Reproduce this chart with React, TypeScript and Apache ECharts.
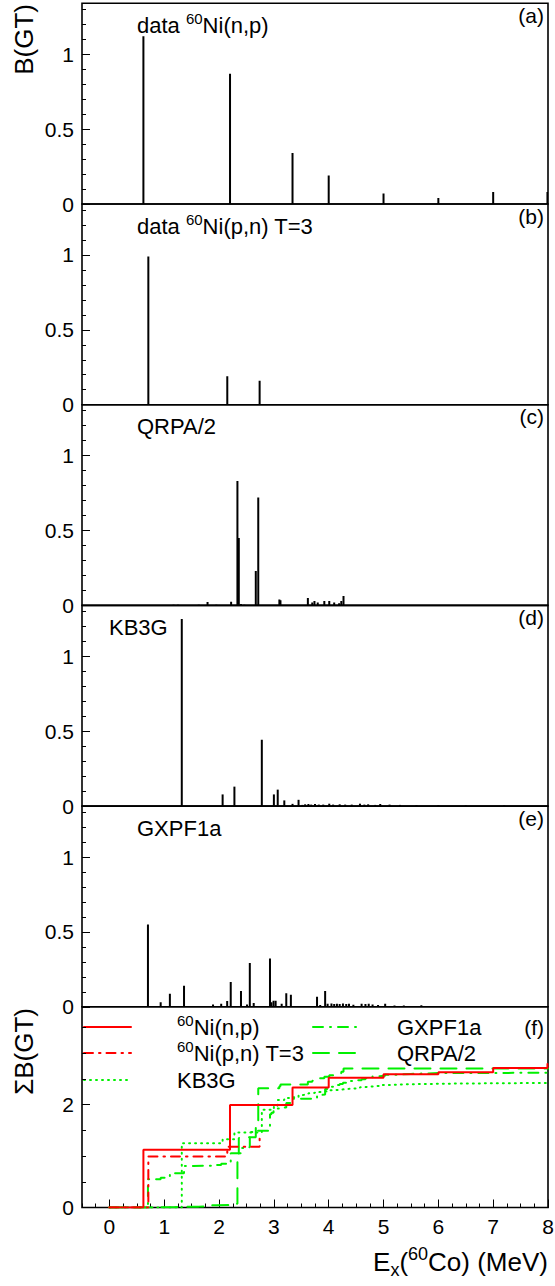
import { useEffect, useRef } from "react";
import * as echarts from "echarts";

// B(GT) spikes, energy in MeV
const npEnergy = [0.62, 2.2, 3.34, 4.0, 5.0, 6.0, 7.0, 7.99];
const npStrength = [1.12, 0.87, 0.34, 0.19, 0.07, 0.04, 0.08, 0.08];

const pnEnergy = [0.71, 2.15, 2.74];
const pnStrength = [0.99, 0.19, 0.16];

const qrpaEnergy = [
  0.45, 0.93, 1.17, 1.25, 1.43, 1.63, 1.79, 1.95, 2.22, 2.335, 2.36, 2.4, 2.46,
  2.67, 2.715, 3.1, 3.12, 3.62, 3.7, 3.74, 3.8, 3.92, 4.01, 4.1, 4.19, 4.23, 4.27,
];
const qrpaStrength = [
  0.003, 0.003, 0.004, 0.004, 0.003, 0.004, 0.022, 0.004, 0.025, 0.83, 0.45, 0.01,
  0.005, 0.23, 0.72, 0.04, 0.035, 0.05, 0.02, 0.03, 0.02, 0.03, 0.03, 0.02, 0.015,
  0.03, 0.063,
];

const kb3gEnergy = [
  1.32, 2.065, 2.28, 2.78, 3.0, 3.07, 3.19, 3.34, 3.45, 3.52, 3.57, 3.63, 3.68,
  3.75, 3.82, 3.9, 4.01, 4.08, 4.2, 4.3, 4.42, 4.57, 4.65, 4.72, 4.85, 4.94, 5.11,
  5.3, 5.6, 6.0, 6.5, 7.2,
];
const kb3gStrength = [
  1.25, 0.078, 0.13, 0.443, 0.078, 0.11, 0.038, 0.015, 0.042, 0.008, 0.012, 0.014,
  0.01, 0.014, 0.01, 0.01, 0.016, 0.01, 0.012, 0.01, 0.01, 0.016, 0.01, 0.012,
  0.008, 0.014, 0.01, 0.008, 0.006, 0.006, 0.005, 0.005,
];

const gxpfEnergy = [
  0.703, 0.935, 1.103, 1.361, 1.529, 1.89, 2.039, 2.148, 2.213, 2.4, 2.51, 2.561,
  2.632, 2.929, 2.955, 2.994, 3.032, 3.142, 3.226, 3.31, 3.613, 3.787, 3.845,
  3.935, 3.98, 4.05, 4.1, 4.15, 4.2, 4.26, 4.32, 4.37, 4.45, 4.6, 4.67, 4.73, 4.8,
  4.9, 5.03, 5.2, 5.37, 5.5, 5.69, 6.0,
];
const gxpfStrength = [
  0.55, 0.03, 0.087, 0.14, 0.006, 0.015, 0.02, 0.038, 0.166, 0.105, 0.015, 0.293,
  0.025, 0.322, 0.03, 0.04, 0.04, 0.02, 0.09, 0.08, 0.006, 0.067, 0.012, 0.105,
  0.02, 0.022, 0.018, 0.02, 0.018, 0.022, 0.018, 0.02, 0.014, 0.02, 0.018, 0.02,
  0.016, 0.012, 0.02, 0.008, 0.008, 0.006, 0.01, 0.006,
];

const panelLabels = ["(a)", "(b)", "(c)", "(d)", "(e)", "(f)"];
const xTickValues = [0, 1, 2, 3, 4, 5, 6, 7, 8];

const FONT = "Liberation Sans, Arial, Helvetica, sans-serif";
const RED = "#ff0000";
const GREEN = "#00f000";

const GRID_TOP = 3.3;
const GRID_H = 200.7;
const GRID_LEFT = 82;
const GRID_RIGHT = 7;

const zip = (e: number[], b: number[]) => e.map((x, i) => [x, b[i]]);

const cumulative = (e: number[], b: number[], end?: number) => {
  const pts: number[][] = [[0, 0]];
  let sum = 0;
  e.forEach((x, i) => {
    sum += b[i];
    pts.push([x, sum]);
  });
  if (end !== undefined) pts.push([end, sum]);
  return pts;
};

const rich = {
  t: { fontSize: 22, lineHeight: 28, fontFamily: FONT, color: "#000", verticalAlign: "middle" },
  s: { fontSize: 15, lineHeight: 15, fontFamily: FONT, color: "#000", verticalAlign: "top" },
};

const label = (x: number, y: number, text: string) => ({
  type: "text",
  x,
  y,
  style: { text, rich, verticalAlign: "middle", align: "left", fontFamily: FONT },
});

const App = () => {
  const chartRef = useRef<HTMLDivElement>(null);

  useEffect(() => {
    document.body.style.margin = "0";
    document.body.style.overflow = "hidden";
    if (!chartRef.current) return;
    const chart = echarts.init(chartRef.current, null, { renderer: "svg" });

    const tops = panelLabels.map((_, i) => GRID_TOP + i * GRID_H);

    const grid = tops.map((top) => ({
      left: GRID_LEFT,
      right: GRID_RIGHT,
      top,
      height: GRID_H,
      show: true,
      containLabel: false,
      outerBoundsMode: "none",
      borderColor: "#000",
      borderWidth: 1.6,
      backgroundColor: "transparent",
    }));

    const xAxis: any[] = tops.map((_, i) => ({
      type: "value",
      gridIndex: i,
      position: "bottom",
      min: -0.5,
      max: 8,
      interval: 0.25,
      show: i === 5,
      axisLine: { show: false, onZero: false },
      axisTick: { show: true, inside: true, length: 4, lineStyle: { color: "#000" } },
      axisLabel: { show: false },
      splitLine: { show: false },
    }));
    xAxis.push({
      type: "value",
      gridIndex: 5,
      position: "bottom",
      min: -0.5,
      max: 8,
      axisLine: { show: false, onZero: false },
      axisTick: { show: true, inside: true, length: 8, customValues: xTickValues, lineStyle: { color: "#000" } },
      axisLabel: {
        customValues: xTickValues,
        color: "#000",
        fontSize: 21,
        fontFamily: FONT,
        margin: 8,
      },
      splitLine: { show: false },
    });

    const yAxis: any[] = [];
    tops.forEach((_, i) => {
      const isSum = i === 5;
      const max = isSum ? 3.9 : 1.34;
      yAxis.push({
        type: "value",
        gridIndex: i,
        position: "left",
        min: 0,
        max,
        interval: isSum ? 0.5 : 0.1,
        axisLine: { show: false, onZero: false },
        axisTick: { show: true, inside: true, length: 4, lineStyle: { color: "#000" } },
        axisLabel: { show: false },
        splitLine: { show: false },
      });
      yAxis.push({
        type: "value",
        gridIndex: i,
        position: "left",
        offset: 0,
        min: 0,
        max,
        interval: isSum ? 2 : 0.5,
        axisLine: { show: false, onZero: false },
        axisTick: { show: true, inside: true, length: 8, lineStyle: { color: "#000" } },
        axisLabel: {
          color: "#000",
          fontSize: 21,
          fontFamily: FONT,
          margin: 8,
          showMaxLabel: false,
        },
        splitLine: { show: false },
      });
    });

    const spikeSeries = (data: number[][], idx: number) => ({
      type: "custom",
      xAxisIndex: idx,
      yAxisIndex: idx * 2,
      data,
      clip: true,
      renderItem: (_params: any, api: any) => {
        const p0 = api.coord([api.value(0), 0]);
        const p1 = api.coord([api.value(0), api.value(1)]);
        return {
          type: "line",
          shape: { x1: p0[0], y1: p0[1], x2: p1[0], y2: p1[1] },
          style: { stroke: "#000", lineWidth: 2 },
        };
      },
    });

    const stepSeries = (data: number[][], color: string, dash: any, width = 2) => ({
      type: "line",
      xAxisIndex: 5,
      yAxisIndex: 10,
      data,
      step: "end",
      showSymbol: false,
      symbol: "none",
      lineStyle: { color, width, type: dash, cap: "round" },
    });

    const legendY = [1027, 1053, 1080];
    const legendLine = (x1: number, x2: number, y: number, color: string, dash: any) => ({
      type: "line",
      shape: { x1, y1: y, x2, y2: y },
      style: { stroke: color, lineWidth: 2, lineDash: dash, lineCap: "round" },
    });

    const dashDotRed = [9, 6, 1.5, 6];
    const dashDotGreen = [10, 7, 1, 7];
    const dotted = [1, 5];
    const longDash = [16, 10];

    const graphic: any[] = [
      // panel titles
      label(137, tops[0] + 22, "{t|data }{s|60}{t|Ni(n,p)}"),
      label(137, tops[1] + 22, "{t|data }{s|60}{t|Ni(p,n) T=3}"),
      label(137, tops[2] + 22, "{t|QRPA/2}"),
      label(109, tops[3] + 22, "{t|KB3G}"),
      label(137, tops[4] + 22, "{t|GXPF1a}"),
      ...panelLabels.map((txt, i) => ({
        type: "text",
        x: 544,
        y: i === 5 ? 1027 : tops[i] + 12,
        style: { text: txt, fontSize: 21, fontFamily: FONT, fill: "#000", align: "right", verticalAlign: "middle" },
      })),
      // axis titles
      {
        type: "text",
        x: 24,
        y: 4,
        rotation: Math.PI / 2,
        style: { text: "B(GT)", fontSize: 26, fontFamily: FONT, fill: "#000", align: "right", verticalAlign: "middle" },
      },
      {
        type: "text",
        x: 24,
        y: 1008,
        rotation: Math.PI / 2,
        style: { text: "ΣB(GT)", fontSize: 26, fontFamily: FONT, fill: "#000", align: "right", verticalAlign: "middle" },
      },
      {
        type: "text",
        x: 548,
        y: 1262,
        style: {
          text: "{m|E}{b|x}{m|(}{p|60}{m|Co) (MeV)}",
          align: "right",
          verticalAlign: "middle",
          rich: {
            m: { fontSize: 26, lineHeight: 34, fontFamily: FONT, color: "#000", verticalAlign: "middle" },
            b: { fontSize: 18, lineHeight: 18, fontFamily: FONT, color: "#000", verticalAlign: "bottom" },
            p: { fontSize: 18, lineHeight: 18, fontFamily: FONT, color: "#000", verticalAlign: "top" },
          },
        },
      },
      // legend
      legendLine(84, 131, legendY[0], RED, null),
      legendLine(84, 131, legendY[1], RED, dashDotRed),
      legendLine(84, 131, legendY[2], GREEN, dotted),
      legendLine(313, 356, legendY[0], GREEN, dashDotGreen),
      legendLine(313, 356, legendY[1], GREEN, longDash),
      label(177, legendY[0], "{s|60}{t|Ni(n,p)}"),
      label(177, legendY[1], "{s|60}{t|Ni(p,n) T=3}"),
      label(177, legendY[2], "{t|KB3G}"),
      label(397, legendY[0], "{t|GXPF1a}"),
      label(397, legendY[1], "{t|QRPA/2}"),
    ];

    const option: any = {
      animation: false,
      backgroundColor: "#fff",
      textStyle: { fontFamily: FONT },
      grid,
      xAxis,
      yAxis,
      graphic,
      series: [
        spikeSeries(zip(npEnergy, npStrength), 0),
        spikeSeries(zip(pnEnergy, pnStrength), 1),
        spikeSeries(zip(qrpaEnergy, qrpaStrength), 2),
        spikeSeries(zip(kb3gEnergy, kb3gStrength), 3),
        spikeSeries(zip(gxpfEnergy, gxpfStrength), 4),
        stepSeries(cumulative(kb3gEnergy, kb3gStrength, 8), GREEN, dotted),
        stepSeries(cumulative(gxpfEnergy, gxpfStrength, 8), GREEN, dashDotGreen),
        stepSeries(cumulative(qrpaEnergy, qrpaStrength, 8), GREEN, longDash),
        stepSeries(cumulative(pnEnergy, pnStrength), RED, dashDotRed),
        stepSeries(cumulative(npEnergy, npStrength, 8), RED, "solid"),
      ],
    };

    chart.setOption(option);

    return () => {
      chart.dispose();
    };
  }, []);

  return <div ref={chartRef} style={{ width: 555, height: 1286 }} />;
};

export default App;
